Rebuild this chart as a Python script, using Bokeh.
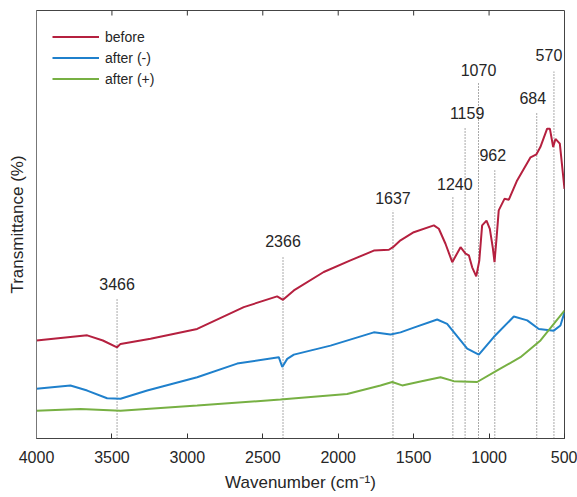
from bokeh.plotting import figure
from bokeh.models import (Range1d, LinearAxis, FixedTicker, Legend, LegendItem,
                          ColumnDataSource)
from bokeh.core.properties import value
from bokeh.embed import file_html
from bokeh.resources import INLINE

# ---- data ----
wn_before = [4000, 3664, 3560, 3466, 3443, 3244, 2935, 2626, 2405, 2366, 2294, 2096,
             1919, 1764, 1664, 1637, 1587, 1499, 1366, 1333, 1289, 1244, 1189, 1156,
             1134, 1112, 1085, 1065, 1046, 1017, 995, 975, 964, 950, 936, 898, 869,
             814, 725, 686, 660, 615, 597, 575, 560, 531, 500]
t_before = [22.9, 24.1, 22.9, 21.3, 22.1, 23.3, 25.6, 30.7, 33.2, 32.4, 34.6, 38.9,
            41.6, 43.9, 44.1, 44.7, 46.3, 48.2, 49.8, 49.0, 45.5, 41.2, 44.7, 43.2,
            42.8, 40.0, 37.9, 41.5, 49.8, 50.9, 49.0, 44.5, 41.2, 47.0, 53.3, 56.0, 55.8,
            60.3, 65.7, 66.4, 68.1, 72.4, 72.4, 68.1, 70.0, 68.9, 58.3]

wn_after_neg = [4000, 3775, 3664, 3532, 3443, 3266, 2935, 2670, 2394, 2371, 2338, 2294,
                2051, 1764, 1653, 1587, 1499, 1344, 1278, 1145, 1068, 969, 836, 747,
                670, 571, 527, 500]
t_after_neg = [11.6, 12.4, 11.2, 9.4, 9.3, 11.2, 14.3, 17.5, 19.0, 16.7, 18.6, 19.6,
               21.7, 24.8, 24.3, 24.8, 25.9, 27.8, 26.8, 21.0, 19.6, 23.7, 28.5, 27.6,
               25.6, 25.2, 26.4, 29.5]

wn_after_pos = [4000, 3708, 3443, 2935, 2383, 1941, 1720, 1642, 1576, 1455, 1322,
                1234, 1079, 946, 792, 659, 500]
t_after_pos = [6.5, 6.9, 6.5, 7.7, 9.1, 10.4, 12.4, 13.2, 12.4, 13.3, 14.3,
               13.4, 13.2, 15.9, 19.0, 22.9, 29.9]

peaks = [3466, 2366, 1637, 1240, 1159, 1070, 962, 684, 570]
peak_tops = [32.9, 42.4, 53.3, 56.4, 72.7, 83.4, 62.6, 76.2, 85.7]
peak_label_y = [36.0, 46.1, 56.2, 59.4, 76.1, 86.0, 66.3, 79.5, 89.6]
peak_labels = [str(v) for v in peaks]
label_dx = [0, 0, 0, 2, 2, 0, -2, -4, -5]

x_ticks = [4000, 3500, 3000, 2500, 2000, 1500, 1000, 500]
top_ticks = [3500, 3000, 2500, 2000, 1500, 1000]

series_names = ["before", "after (-)", "after (+)"]
colors = ["#B5203F", "#1F80CC", "#77B043"]

FONT = "Liberation Sans"
TXT = "#262626"

p = figure(width=577, height=497, output_backend="svg", toolbar_location=None,
           x_range=Range1d(4000, 500), y_range=Range1d(0, 100),
           min_border_left=36, min_border_right=13, min_border_top=10,
           min_border_bottom=59, x_axis_location=None, y_axis_location=None)
p.background_fill_color = "white"
p.border_fill_color = "white"
p.grid.visible = False
p.outline_line_color = "#444444"
p.outline_line_width = 1

# bottom axis
xb = LinearAxis(ticker=FixedTicker(ticks=x_ticks),
                axis_label="Wavenumber (cm\u207b\u00b9)")
xb.major_tick_in = 5
xb.major_tick_out = 0
xb.minor_tick_in = 0
xb.minor_tick_out = 0
xb.major_tick_line_color = "#333333"
xb.axis_line_color = "#444444"
xb.major_label_text_font = FONT
xb.major_label_text_font_size = "16px"
xb.major_label_text_color = TXT
xb.major_label_standoff = 12
xb.axis_label_text_font = FONT
xb.axis_label_text_font_size = "17px"
xb.axis_label_text_font_style = "normal"
xb.axis_label_text_color = TXT
xb.axis_label_standoff = 7
p.add_layout(xb, "below")

# top ticks (inward), drawn from the tick values
p.ray(x=top_ticks, y=[100] * len(top_ticks), length=5, length_units="screen",
      angle=-90, angle_units="deg", line_color="#333333", line_width=1)

# left axis (label only)
yl = LinearAxis(ticker=FixedTicker(ticks=[]), axis_label="Transmittance (%)")
yl.major_tick_in = 0
yl.major_tick_out = 0
yl.minor_tick_in = 0
yl.minor_tick_out = 0
yl.axis_line_color = "#777777"
yl.major_label_standoff = 0
yl.axis_label_text_font = FONT
yl.axis_label_text_font_size = "17px"
yl.axis_label_text_font_style = "normal"
yl.axis_label_text_color = TXT
yl.axis_label_standoff = 10
p.add_layout(yl, "left")

# peak markers
src = ColumnDataSource(dict(x=peaks, top=peak_tops, base=[0] * len(peaks),
                            ly=peak_label_y, label=peak_labels, dx=label_dx))
p.segment(x0="x", y0="base", x1="x", y1="top", source=src,
          line_color="#555555", line_width=1, line_dash="1 2")
p.text(x="x", y="ly", text="label", source=src, x_offset="dx",
       text_align="center", text_baseline="middle",
       text_font=value(FONT), text_font_size="16px", text_color=TXT)

# curves
r1 = p.line(wn_before, t_before, line_color=colors[0], line_width=2)
r2 = p.line(wn_after_neg, t_after_neg, line_color=colors[1], line_width=2)
r3 = p.line(wn_after_pos, t_after_pos, line_color=colors[2], line_width=2)

legend = Legend(items=[LegendItem(label=series_names[0], renderers=[r1]),
                       LegendItem(label=series_names[1], renderers=[r2]),
                       LegendItem(label=series_names[2], renderers=[r3])],
                location="top_left")
legend.border_line_color = None
legend.background_fill_alpha = 0
legend.label_text_font = FONT
legend.label_text_font_size = "14px"
legend.label_text_color = TXT
legend.glyph_width = 47
legend.glyph_height = 21
legend.label_height = 21
legend.spacing = 0
legend.label_standoff = 6
legend.margin = 16
legend.padding = 0
p.add_layout(legend, "center")

open("out.html", "w").write(file_html(p, INLINE))
